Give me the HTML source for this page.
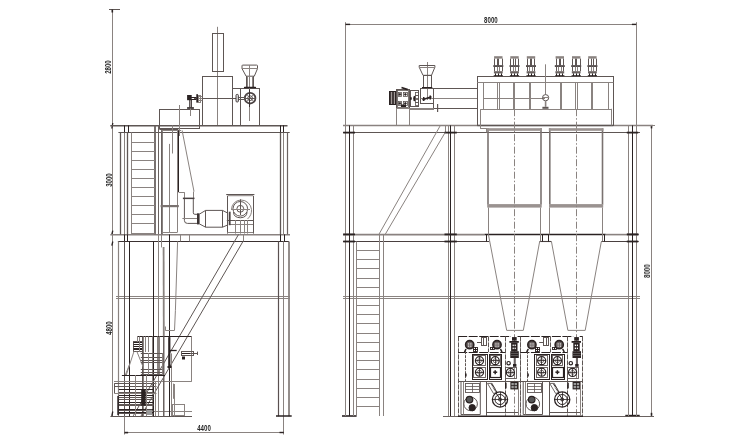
<!DOCTYPE html>
<html><head><meta charset="utf-8"><style>
html,body{margin:0;padding:0;background:#fff;overflow:hidden;}
svg{display:block;}
</style></head><body>
<svg width="750" height="444" viewBox="0 0 750 444">
<path d="M112.5,9.5V416" stroke="#8a8380" stroke-width="1"/>
<path d="M109,9.5H120" stroke="#5e5654" stroke-width="1"/>
<rect x="111.5" y="9.5" width="1.6" height="3" fill="#2a2222"/>
<path d="M112.8,123L111.8,128.5" stroke="#2a2222" stroke-width="1.3"/>
<path d="M112.8,230.7L111.8,234.5" stroke="#2a2222" stroke-width="1.3"/>
<path d="M112.8,241.5L111.8,245.6" stroke="#2a2222" stroke-width="1.3"/>
<path d="M112.8,411.5L111.8,416" stroke="#2a2222" stroke-width="1.3"/>
<path d="M110.3,125.7H287.5" stroke="#5e5654" stroke-width="1.5"/>
<path d="M118.4,132.5H289.7" stroke="#5e5654" stroke-width="1.2"/>
<path d="M110.3,234.7H290" stroke="#8a8280" stroke-width="1.6"/>
<path d="M117.9,241.5H289" stroke="#3a3030" stroke-width="1.1"/>
<path d="M116,296.5H290" stroke="#8a8380" stroke-width="1"/>
<path d="M116,298.5H290" stroke="#8a8380" stroke-width="1"/>
<path d="M110.4,416.5H192" stroke="#5e5654" stroke-width="1.2"/>
<path d="M152,411.5H192" stroke="#8a8380" stroke-width="1"/>
<path d="M124.5,405V434.5" stroke="#8a8380" stroke-width="1"/>
<path d="M283.5,405V434.5" stroke="#8a8380" stroke-width="1"/>
<path d="M124.5,432.5H283.7" stroke="#8a8380" stroke-width="1"/>
<rect x="279.5" y="431.8" width="4.3" height="1.4" fill="#2a2222"/>
<rect x="124.5" y="431.8" width="3.6" height="1.6" fill="#2a2222"/>
<path d="M120.5,132.4V234.4" stroke="#5e5654" stroke-width="1.3"/>
<path d="M124.5,132.4V234.4" stroke="#8a8380" stroke-width="1"/>
<path d="M127.5,132.4V234.4" stroke="#5e5654" stroke-width="1.3"/>
<path d="M124.5,125.4V132.4" stroke="#2a2222" stroke-width="1"/>
<path d="M128.5,125.4V132.4" stroke="#2a2222" stroke-width="1"/>
<path d="M118.5,241.4V416.3" stroke="#8a8380" stroke-width="1.2"/>
<path d="M124.5,241.4V416.3" stroke="#5e5654" stroke-width="1"/>
<path d="M129.5,241.4V416.3" stroke="#2a2222" stroke-width="1"/>
<path d="M124.5,234.4V241.4" stroke="#2a2222" stroke-width="1"/>
<path d="M127.5,234.4V241.4" stroke="#2a2222" stroke-width="1"/>
<path d="M280.5,132.4V234.4" stroke="#5e5654" stroke-width="1.3"/>
<path d="M283.5,132.4V234.4" stroke="#8a8380" stroke-width="1"/>
<path d="M287.5,132.4V234.4" stroke="#6a6260" stroke-width="1.2"/>
<path d="M280.5,125.4V132.4" stroke="#2a2222" stroke-width="1"/>
<path d="M283.5,125.4V132.4" stroke="#2a2222" stroke-width="1"/>
<path d="M278.5,241.4V416.3" stroke="#5a5050" stroke-width="1.2"/>
<path d="M283.5,241.4V416.3" stroke="#8a8380" stroke-width="1"/>
<path d="M289,241.4V416.3" stroke="#8a8380" stroke-width="1.8"/>
<path d="M280.5,234.4V241.4" stroke="#2a2222" stroke-width="1"/>
<path d="M284.5,234.4V241.4" stroke="#2a2222" stroke-width="1"/>
<path d="M289.5,241.4V241.4" stroke="#8a8380" stroke-width="1"/>
<path d="M276,416H291.7" stroke="#2a2222" stroke-width="1.5"/>
<path d="M131.5,132.4V234.4" stroke="#8a8380" stroke-width="1"/>
<path d="M155,125.4V234.4" stroke="#6a6260" stroke-width="1.8"/>
<path d="M131.4,142.5H154.9" stroke="#8a8380" stroke-width="1"/>
<path d="M131.4,151.5H154.9" stroke="#8a8380" stroke-width="1"/>
<path d="M131.4,160.5H154.9" stroke="#8a8380" stroke-width="1"/>
<path d="M131.4,169.5H154.9" stroke="#8a8380" stroke-width="1"/>
<path d="M131.4,178.5H154.9" stroke="#8a8380" stroke-width="1"/>
<path d="M131.4,187.5H154.9" stroke="#8a8380" stroke-width="1"/>
<path d="M131.4,196.5H154.9" stroke="#8a8380" stroke-width="1"/>
<path d="M131.4,205.5H154.9" stroke="#8a8380" stroke-width="1"/>
<path d="M131.4,214.5H154.9" stroke="#8a8380" stroke-width="1"/>
<path d="M131.4,223.5H154.9" stroke="#8a8380" stroke-width="1"/>
<path d="M131.4,233.5H154.9" stroke="#8a8380" stroke-width="1"/>
<path d="M158.5,125.4V234.4" stroke="#6a6260" stroke-width="1"/>
<path d="M158.5,234.4V416.3" stroke="#8a8380" stroke-width="1"/>
<path d="M161.9,129.7V234.4" stroke="#6a6260" stroke-width="1.8"/>
<path d="M153.5,241.4V416.3" stroke="#2a2222" stroke-width="1"/>
<path d="M169.5,234.4V416.3" stroke="#2a2222" stroke-width="1"/>
<path d="M161.5,234.4V247.4" stroke="#8a8380" stroke-width="1"/>
<path d="M217.5,26.8V125.4" stroke="#8a8380" stroke-width="1"/>
<rect x="212.5" y="33.5" width="11.0" height="38.0" stroke="#5e5654" stroke-width="1" fill="none"/>
<rect x="202.5" y="76.5" width="30.0" height="49.0" stroke="#5e5654" stroke-width="1" fill="none"/>
<rect x="232.5" y="88.5" width="8.0" height="37.0" stroke="#5e5654" stroke-width="1" fill="none"/>
<rect x="240.5" y="88.5" width="19.0" height="37.0" stroke="#5e5654" stroke-width="1" fill="none"/>
<path d="M242,65.6 Q242,65.1 243,65.1 L256.6,65.1 Q257.5,65.1 257.5,65.6 L257.5,68.6 L254.3,76.2 L246.1,76.2 L242,68.6 Z" stroke="#5e5654" stroke-width="1" fill="none"/>
<path d="M242,68.5H257.5" stroke="#8a8380" stroke-width="1"/>
<path d="M246.5,76V87.5" stroke="#5e5654" stroke-width="1"/>
<path d="M247.5,76V87.5" stroke="#8a8380" stroke-width="1"/>
<path d="M252.5,76V87.5" stroke="#8a8380" stroke-width="1"/>
<path d="M253.5,76V87.5" stroke="#5e5654" stroke-width="1"/>
<path d="M249.5,65V121" stroke="#8a8380" stroke-width="1"/>
<path d="M244.6,87.4 L255.4,87.4" stroke="#2a2222" stroke-width="1.5" fill="none" stroke-linecap="round"/>
<circle cx="250.1" cy="98.2" r="5.3" stroke="#4a4242" stroke-width="1.8" fill="none"/>
<circle cx="250.1" cy="98.2" r="2.4" stroke="#5e5654" stroke-width="1" fill="none"/>
<path d="M249.5,89.2V107" stroke="#3a3232" stroke-width="1"/>
<path d="M246.6,94.4L253.8,101.6" stroke="#5e5654" stroke-width="0.8"/>
<path d="M246.6,101.6L253.8,94.4" stroke="#5e5654" stroke-width="0.8"/>
<path d="M244.6,98.5H255.8" stroke="#5e5654" stroke-width="1"/>
<path d="M194,98.5H236" stroke="#5e5654" stroke-width="1"/>
<path d="M238.4,97.5H245" stroke="#5e5654" stroke-width="1"/>
<path d="M238.4,99.5H245" stroke="#5e5654" stroke-width="1"/>
<rect x="198.5" y="95.5" width="2.0" height="7.0" stroke="#8a8380" stroke-width="1" fill="none"/>
<path d="M198,96.5H202.3" stroke="#8a8380" stroke-width="1"/>
<path d="M198,98.5H202.3" stroke="#8a8380" stroke-width="1"/>
<path d="M198,100.5H202.3" stroke="#8a8380" stroke-width="1"/>
<rect x="236" y="94.4" width="2.4" height="7.6" rx="1" stroke="#3a3232" stroke-width="0.9" fill="#ddd"/>
<rect x="189.2" y="100" width="0.9" height="7.5" fill="#3a3232"/>
<rect x="191.0" y="100" width="0.9" height="7.5" fill="#3a3232"/>
<rect x="190.1" y="100" width="0.9" height="7.5" fill="#9a9290"/>
<rect x="187.1" y="95" width="4.6" height="5.2" fill="#2a2222"/>
<path d="M191,97.5H196.5" stroke="#2a2222" stroke-width="1"/>
<path d="M191,99.5H196.5" stroke="#2a2222" stroke-width="1"/>
<rect x="196.3" y="94.2" width="1.7" height="8.4" fill="#2a2222"/>
<rect x="187.1" y="107.2" width="6.8" height="1.6" fill="#2a2222"/>
<rect x="159.5" y="109.5" width="40.0" height="19.0" stroke="#5e5654" stroke-width="1" fill="none"/>
<path d="M179.5,105V136" stroke="#8a8380" stroke-width="1"/>
<path d="M190.5,108.5V116" stroke="#8a8380" stroke-width="1"/>
<path d="M159.4,129.5H178.3" stroke="#5e5654" stroke-width="1"/>
<path d="M161.5,130.5H181" stroke="#8a8380" stroke-width="1"/>
<path d="M177.5,130.4V232.6" stroke="#8a8380" stroke-width="1"/>
<path d="M169.5,143.9V232.6" stroke="#8a8380" stroke-width="1"/>
<path d="M172.5,125.4V153.5" stroke="#8a8380" stroke-width="1"/>
<rect x="160.6" y="205" width="18.2" height="2.2" fill="#7a7270"/>
<path d="M161.7,232.5H177" stroke="#8a8380" stroke-width="1"/>
<path d="M182.1,130.4L194,191.5" stroke="#8a8380" stroke-width="1"/>
<path d="M193.5,191.5V198.3" stroke="#8a8380" stroke-width="1"/>
<path d="M178.5,130.4V192.2" stroke="#2a2222" stroke-width="1"/>
<path d="M178.8,192.5H184.4" stroke="#8a8380" stroke-width="1"/>
<path d="M184.5,192.2V198.3" stroke="#8a8380" stroke-width="1"/>
<rect x="182.9" y="197.6" width="11.6" height="1.5" fill="#4a4242"/>
<path d="M184.4,199 L184.4,220.4 Q184.4,223.4 187.4,223.4 L197,223.4" stroke="#5e5654" stroke-width="1" fill="none"/>
<path d="M193.3,199 L193.3,212.8 Q193.3,214.3 194.8,214.3 L197,214.3" stroke="#5e5654" stroke-width="1" fill="none"/>
<path d="M182.4,218.5H197" stroke="#8a8380" stroke-width="1"/>
<rect x="197" y="213.3" width="2.6" height="11.1" fill="#3a3232"/>
<path d="M199.6,214 L205.6,210.4 L222.5,210.4 L227.6,213 L227.6,225 L222.5,227.2 L205.6,227.2 L199.6,224" stroke="#5e5654" stroke-width="1" fill="none"/>
<path d="M205.5,210.4V227.2" stroke="#5e5654" stroke-width="1"/>
<path d="M222.5,210.4V227.2" stroke="#5e5654" stroke-width="1"/>
<rect x="226.2" y="194" width="28.2" height="1.1" fill="#5e5654"/>
<rect x="227.5" y="195.2" width="25.8" height="1" fill="#8a8380"/>
<path d="M227.5,196V233.6" stroke="#5e5654" stroke-width="1"/>
<path d="M253.5,196V233.6" stroke="#5e5654" stroke-width="1"/>
<path d="M231.5,209.5 A9.5,9.5 0 0 1 241,200 A10.5,10.5 0 0 1 251.5,209.5 A11.5,11.5 0 0 1 247.5,219" stroke="#8a8380" stroke-width="1" fill="none"/>
<circle cx="240.3" cy="208.8" r="7.3" stroke="#5e5654" stroke-width="1" fill="none"/>
<circle cx="240.3" cy="208.8" r="3.4" stroke="#5e5654" stroke-width="1" fill="none"/>
<path d="M240.5,199.3V215" stroke="#5e5654" stroke-width="1"/>
<path d="M231,209.5H250" stroke="#8a8380" stroke-width="1"/>
<path d="M233.5,212 Q233.5,217.5 240.3,217.8 Q247,217.5 247,212" stroke="#5e5654" stroke-width="1" fill="none"/>
<path d="M226.8,220.5H253.8" stroke="#5e5654" stroke-width="1"/>
<path d="M230,224.5H253" stroke="#8a8380" stroke-width="1"/>
<path d="M235.5,220V233.6" stroke="#8a8380" stroke-width="1"/>
<path d="M240.5,220V233.6" stroke="#8a8380" stroke-width="1"/>
<path d="M244.5,220V233.6" stroke="#8a8380" stroke-width="1"/>
<path d="M247.5,220V233.6" stroke="#8a8380" stroke-width="1"/>
<rect x="228.8" y="211.7" width="1.8" height="13.5" fill="#4a4242"/>
<path d="M227.3,232.5H253.2" stroke="#8a8380" stroke-width="1"/>
<path d="M163.6,247L163.8,336.4" stroke="#8a8380" stroke-width="1.8"/>
<path d="M177.6,241.4L175.4,310.7" stroke="#8a8380" stroke-width="1"/>
<path d="M175.4,310.7L174.5,330.4" stroke="#8a8380" stroke-width="1"/>
<path d="M165.3,330.5H174.5" stroke="#8a8380" stroke-width="1"/>
<path d="M165.5,326.5V330.4" stroke="#8a8380" stroke-width="1"/>
<path d="M243.5,234.4V241.4" stroke="#8a8380" stroke-width="1"/>
<path d="M180.5,234.7V241.3" stroke="#8a8380" stroke-width="1"/>
<path d="M189.5,234.7V241.3" stroke="#8a8380" stroke-width="1"/>
<path d="M238.5,234.5L133.3,415.8" stroke="#5e5654" stroke-width="1"/>
<path d="M243,241.4L141,416" stroke="#5e5654" stroke-width="1"/>
<path d="M137.4,336.5H191.7" stroke="#2a2222" stroke-width="1"/>
<path d="M191.5,336.4V381.6" stroke="#8a8380" stroke-width="1"/>
<path d="M114,381.5H191.7" stroke="#8a8380" stroke-width="1"/>
<path d="M171.5,353.4V416.3" stroke="#8a8380" stroke-width="1"/>
<path d="M174.5,384V416.3" stroke="#8a8380" stroke-width="1"/>
<rect x="172.5" y="404.5" width="12.0" height="11.0" stroke="#8a8380" stroke-width="1" fill="none"/>
<rect x="168.2" y="337.2" width="2.2" height="30" fill="#2a2222"/>
<path d="M169,350.5H176.7" stroke="#2a2222" stroke-width="1.3"/>
<rect x="167.5" y="366" width="4" height="2" fill="#2a2222"/>
<rect x="181.5" y="351.5" width="12.0" height="4.0" stroke="#5e5654" stroke-width="1" fill="none"/>
<path d="M182,353.5H193" stroke="#2a2222" stroke-width="1"/>
<rect x="182" y="356.5" width="3" height="3" fill="#2a2222"/>
<path d="M190,353.5H198" stroke="#5e5654" stroke-width="1"/>
<path d="M197.5,351.6V355" stroke="#5e5654" stroke-width="1"/>
<rect x="163" y="336.4" width="1.5" height="80" fill="#6a6260"/>
<rect x="133.5" y="341.5" width="10.0" height="10.0" stroke="#5e5654" stroke-width="1" fill="none"/>
<path d="M133.5,342.5H143" stroke="#2a2222" stroke-width="1"/>
<path d="M133.5,344.5H143" stroke="#2a2222" stroke-width="1"/>
<path d="M133.5,346.5H143" stroke="#2a2222" stroke-width="1"/>
<path d="M133.5,348.5H143" stroke="#2a2222" stroke-width="1"/>
<path d="M133.5,349.5H143" stroke="#2a2222" stroke-width="1"/>
<path d="M137.5,336.4V342" stroke="#8a8380" stroke-width="1"/>
<path d="M139.5,336.4V352" stroke="#8a8380" stroke-width="1"/>
<path d="M143.5,336.4V416.3" stroke="#8a8380" stroke-width="1"/>
<path d="M145.5,336.4V352" stroke="#8a8380" stroke-width="1"/>
<path d="M148.5,336.4V352" stroke="#8a8380" stroke-width="1"/>
<path d="M142.5,336.4V416.3" stroke="#5e5654" stroke-width="1"/>
<path d="M152.5,336.4V416.3" stroke="#8a8380" stroke-width="1"/>
<path d="M157.5,336.4V375" stroke="#8a8380" stroke-width="1"/>
<path d="M159.5,336.4V375" stroke="#8a8380" stroke-width="1"/>
<path d="M162.5,353V375" stroke="#8a8380" stroke-width="1"/>
<path d="M134,351.3L126.1,375.5" stroke="#8a8380" stroke-width="1"/>
<path d="M136.8,351.3L143.6,368.2" stroke="#8a8380" stroke-width="1"/>
<path d="M140.8,353.5H162.2" stroke="#5e5654" stroke-width="1"/>
<path d="M140.8,357.5H162.2" stroke="#5e5654" stroke-width="1"/>
<path d="M140.8,360.5H162.2" stroke="#5e5654" stroke-width="1"/>
<path d="M140.8,362.5H162.2" stroke="#5e5654" stroke-width="1"/>
<path d="M140.8,369.5H162.2" stroke="#5e5654" stroke-width="1"/>
<path d="M140.8,372.5H162.2" stroke="#5e5654" stroke-width="1"/>
<path d="M140.8,374.5H162.2" stroke="#5e5654" stroke-width="1"/>
<path d="M148.5,353V375" stroke="#8a8380" stroke-width="1"/>
<path d="M121.9,375.5H165" stroke="#2a2222" stroke-width="1.2"/>
<path d="M125.3,375L129.3,365" stroke="#8a8380" stroke-width="1"/>
<path d="M114.2,383.5H156.5" stroke="#5e5654" stroke-width="1"/>
<path d="M114.2,386.5H156.5" stroke="#5e5654" stroke-width="1"/>
<path d="M114.5,383.6V393" stroke="#5e5654" stroke-width="1"/>
<path d="M114.2,393.5H156.5" stroke="#8a8380" stroke-width="1"/>
<path d="M118.8,389.5H153.5" stroke="#2a2222" stroke-width="1"/>
<path d="M118.8,392.5H153.5" stroke="#5e5654" stroke-width="1"/>
<path d="M118.8,395.5H153.5" stroke="#2a2222" stroke-width="1"/>
<path d="M118.8,397.5H153.5" stroke="#5e5654" stroke-width="1"/>
<path d="M118.8,399.5H153.5" stroke="#5e5654" stroke-width="1"/>
<path d="M118.8,402.5H153.5" stroke="#2a2222" stroke-width="1"/>
<path d="M118.8,404.5H153.5" stroke="#5e5654" stroke-width="1"/>
<path d="M118.8,405.5H153.5" stroke="#5e5654" stroke-width="1"/>
<path d="M118.8,409.5H153.5" stroke="#2a2222" stroke-width="1"/>
<path d="M118.8,410.5H153.5" stroke="#5e5654" stroke-width="1"/>
<path d="M118.8,412.5H153.5" stroke="#2a2222" stroke-width="1"/>
<path d="M118.8,413.5H153.5" stroke="#5e5654" stroke-width="1"/>
<rect x="117.3" y="396" width="1.6" height="19" fill="#2a2222"/>
<path d="M135.5,375V416.3" stroke="#8a8380" stroke-width="1"/>
<path d="M146.5,375V416.3" stroke="#8a8380" stroke-width="1"/>
<rect x="141.2" y="389.5" width="4.5" height="16.2" fill="#2a2222"/>
<rect x="147" y="409.7" width="5" height="5.3" fill="#999"/>
<path d="M155.5,381V416.3" stroke="#8a8380" stroke-width="1"/>
<path d="M173.5,383.6V398.8" stroke="#8a8380" stroke-width="1"/>
<path d="M345.1,24.5H636.2" stroke="#8a8380" stroke-width="1"/>
<path d="M345.5,22.2V126" stroke="#8a8380" stroke-width="1"/>
<path d="M636.5,22.2V126" stroke="#8a8380" stroke-width="1"/>
<rect x="345.5" y="23.7" width="4.6" height="1.4" fill="#2a2222"/>
<rect x="631.9" y="23.7" width="4.3" height="1.4" fill="#2a2222"/>
<path d="M651.5,125.4V416.5" stroke="#8a8380" stroke-width="1"/>
<path d="M636,125.5H655" stroke="#8a8380" stroke-width="1"/>
<rect x="650.7" y="125.4" width="1.6" height="3" fill="#2a2222"/>
<rect x="650.7" y="412.8" width="1.6" height="3" fill="#2a2222"/>
<path d="M343,125.6H477.3" stroke="#8a8280" stroke-width="1.5"/>
<path d="M477.3,125.5H613.3" stroke="#2a2222" stroke-width="1.4"/>
<path d="M613.3,125.5H653" stroke="#8a8280" stroke-width="1.3"/>
<path d="M343,132.5H640" stroke="#5e5654" stroke-width="1"/>
<path d="M343,234.6H484.6" stroke="#8a8280" stroke-width="1.6"/>
<path d="M484.6,234.5H605.7" stroke="#2a2222" stroke-width="1.6"/>
<path d="M605.7,234.6H627" stroke="#8a8280" stroke-width="1.6"/>
<path d="M627,234.5H638.7" stroke="#2a2222" stroke-width="1.6"/>
<path d="M343,241.5H489.2" stroke="#4a4040" stroke-width="1.1"/>
<path d="M539.5,241.5H551.4" stroke="#4a4040" stroke-width="1.1"/>
<path d="M601.3,241.5H638.7" stroke="#4a4040" stroke-width="1.1"/>
<path d="M486.5,234.5V241.6" stroke="#2a2222" stroke-width="1"/>
<path d="M542.5,234.5V241.6" stroke="#2a2222" stroke-width="1"/>
<path d="M548.5,234.5V241.6" stroke="#2a2222" stroke-width="1"/>
<path d="M604.5,234.5V241.6" stroke="#2a2222" stroke-width="1"/>
<path d="M343,296.5H640" stroke="#8a8380" stroke-width="1"/>
<path d="M343,298.5H640" stroke="#8a8380" stroke-width="1"/>
<path d="M443,416.5H654" stroke="#6a6260" stroke-width="1.2"/>
<path d="M458,416.3H583" stroke="#2a2222" stroke-width="1.5"/>
<path d="M342,416H356.6" stroke="#2a2222" stroke-width="1.6"/>
<path d="M625.3,415.5H639.7" stroke="#2a2222" stroke-width="1.4"/>
<path d="M345.5,125.4V416" stroke="#8a8380" stroke-width="1"/>
<path d="M349.5,125.4V416" stroke="#2a2222" stroke-width="1"/>
<path d="M353.5,125.4V416" stroke="#8a8380" stroke-width="1"/>
<path d="M448.5,125.4V416" stroke="#8a8380" stroke-width="1"/>
<path d="M450.5,125.4V416" stroke="#2a2222" stroke-width="1"/>
<path d="M454.5,125.4V416" stroke="#8a8380" stroke-width="1"/>
<path d="M445.5,125.4V132.6" stroke="#8a8380" stroke-width="1"/>
<path d="M628.5,125.4V416" stroke="#8a8380" stroke-width="1"/>
<path d="M632.5,125.4V416" stroke="#2a2222" stroke-width="1"/>
<path d="M636.5,125.4V416" stroke="#8a8380" stroke-width="1"/>
<path d="M343.2,132.6H355" stroke="#2a2222" stroke-width="1.8"/>
<path d="M444.5,132.6H456.8" stroke="#2a2222" stroke-width="1.8"/>
<path d="M626.8,132.6H638.2" stroke="#2a2222" stroke-width="1.8"/>
<path d="M343.2,234.4H355" stroke="#2a2222" stroke-width="1.8"/>
<path d="M444.5,234.4H456.8" stroke="#2a2222" stroke-width="1.8"/>
<path d="M626.8,234.4H638.2" stroke="#2a2222" stroke-width="1.8"/>
<path d="M343.2,241.5H355" stroke="#2a2222" stroke-width="1.8"/>
<path d="M444.5,241.5H456.8" stroke="#2a2222" stroke-width="1.8"/>
<path d="M626.8,241.5H638.2" stroke="#2a2222" stroke-width="1.8"/>
<path d="M440.4,125.4L378.9,234.4" stroke="#8a8380" stroke-width="1"/>
<path d="M445.1,132.6L385.2,234.4" stroke="#8a8380" stroke-width="1"/>
<path d="M356.5,241.5V416" stroke="#8a8380" stroke-width="1"/>
<path d="M379.5,234.4V416" stroke="#8a8380" stroke-width="1"/>
<path d="M383.5,234.4V416" stroke="#8a8380" stroke-width="1"/>
<path d="M356.6,250.5H379.7" stroke="#8a8380" stroke-width="1"/>
<path d="M356.6,259.5H379.7" stroke="#8a8380" stroke-width="1"/>
<path d="M356.6,268.5H379.7" stroke="#8a8380" stroke-width="1"/>
<path d="M356.6,278.5H379.7" stroke="#8a8380" stroke-width="1"/>
<path d="M356.6,287.5H379.7" stroke="#8a8380" stroke-width="1"/>
<path d="M356.6,296.5H379.7" stroke="#8a8380" stroke-width="1"/>
<path d="M356.6,305.5H379.7" stroke="#8a8380" stroke-width="1"/>
<path d="M356.6,314.5H379.7" stroke="#8a8380" stroke-width="1"/>
<path d="M356.6,323.5H379.7" stroke="#8a8380" stroke-width="1"/>
<path d="M356.6,333.5H379.7" stroke="#8a8380" stroke-width="1"/>
<path d="M356.6,342.5H379.7" stroke="#8a8380" stroke-width="1"/>
<path d="M356.6,351.5H379.7" stroke="#8a8380" stroke-width="1"/>
<path d="M356.6,360.5H379.7" stroke="#8a8380" stroke-width="1"/>
<path d="M356.6,369.5H379.7" stroke="#8a8380" stroke-width="1"/>
<path d="M356.6,379.5H379.7" stroke="#8a8380" stroke-width="1"/>
<path d="M356.6,388.5H379.7" stroke="#8a8380" stroke-width="1"/>
<path d="M356.6,397.5H379.7" stroke="#8a8380" stroke-width="1"/>
<path d="M356.6,406.5H379.7" stroke="#8a8380" stroke-width="1"/>
<path d="M427.5,62V100" stroke="#8a8380" stroke-width="1"/>
<path d="M419.2,65.5 L434.9,65.5 L434.9,67.2 L431.5,75.3 L423,75.3 L419.2,67.2 Z" stroke="#5e5654" stroke-width="1" fill="none"/>
<path d="M419.2,67.5H434.9" stroke="#8a8380" stroke-width="1"/>
<rect x="423.5" y="75.5" width="8.0" height="12.0" stroke="#5e5654" stroke-width="1" fill="none"/>
<rect x="422" y="87" width="10.3" height="1.8" fill="#2a2222"/>
<rect x="420.5" y="88.5" width="13.0" height="15.0" stroke="#5e5654" stroke-width="1" fill="none"/>
<path d="M433.8,88.5H477.3" stroke="#5e5654" stroke-width="1"/>
<path d="M433.8,108.5H477.3" stroke="#5e5654" stroke-width="1.2"/>
<path d="M420.5,98.5H477.3" stroke="#8a8380" stroke-width="1"/>
<path d="M433.5,88.2V109.6" stroke="#5e5654" stroke-width="1"/>
<path d="M396,108.5H433.8" stroke="#8a8380" stroke-width="1"/>
<path d="M409.2,109.5H433.8" stroke="#8a8380" stroke-width="1"/>
<path d="M422.4,99.8L431.5,96.7" stroke="#2a2222" stroke-width="1.7"/>
<rect x="423" y="97" width="1.5" height="4" fill="#2a2222"/>
<rect x="429.5" y="95.5" width="1.5" height="4" fill="#2a2222"/>
<rect x="396.5" y="89.5" width="13.0" height="19.0" stroke="#5e5654" stroke-width="1" fill="none"/>
<rect x="397.5" y="90.5" width="11.0" height="17.0" stroke="#5e5654" stroke-width="0.8" fill="none"/>
<rect x="398.5" y="92.5" width="3.0" height="4.0" stroke="#5e5654" stroke-width="0.8" fill="none"/>
<circle cx="399.9" cy="94.4" r="0.9" stroke="#2a2222" stroke-width="0.8" fill="#2a2222"/>
<rect x="403.5" y="92.5" width="4.0" height="4.0" stroke="#5e5654" stroke-width="0.8" fill="none"/>
<circle cx="405.4" cy="94.4" r="0.9" stroke="#2a2222" stroke-width="0.8" fill="#2a2222"/>
<rect x="398.5" y="101.5" width="3.0" height="4.0" stroke="#5e5654" stroke-width="0.8" fill="none"/>
<circle cx="399.9" cy="103.4" r="0.9" stroke="#2a2222" stroke-width="0.8" fill="#2a2222"/>
<rect x="403.5" y="101.5" width="4.0" height="4.0" stroke="#5e5654" stroke-width="0.8" fill="none"/>
<circle cx="405.4" cy="103.4" r="0.9" stroke="#2a2222" stroke-width="0.8" fill="#2a2222"/>
<path d="M401.5,87.5L407.7,89.6" stroke="#2a2222" stroke-width="1.8"/>
<rect x="401" y="104.5" width="5" height="2.5" fill="#2a2222"/>
<rect x="389.5" y="91.5" width="6.0" height="13.0" stroke="#2a2222" stroke-width="1" fill="#a09896"/>
<path d="M390.5,91.5V104.5" stroke="#2a2222" stroke-width="0.8"/>
<path d="M392.5,91.5V104.5" stroke="#2a2222" stroke-width="0.8"/>
<path d="M393.5,91.5V104.5" stroke="#2a2222" stroke-width="0.8"/>
<rect x="410.5" y="90.5" width="8.0" height="16.0" stroke="#5e5654" stroke-width="1" fill="none"/>
<ellipse cx="410.9" cy="98.5" rx="0.9" ry="1.8" fill="#2a2222"/>
<ellipse cx="414.5" cy="98.5" rx="1.3" ry="2.8" fill="#2a2222"/>
<rect x="415.5" y="92.5" width="3.0" height="3.0" stroke="#5e5654" stroke-width="0.8" fill="none"/>
<rect x="415.5" y="95.5" width="3.0" height="3.0" stroke="#5e5654" stroke-width="0.8" fill="none"/>
<rect x="415.5" y="99.5" width="3.0" height="3.0" stroke="#5e5654" stroke-width="0.8" fill="none"/>
<rect x="415.5" y="102.5" width="3.0" height="3.0" stroke="#5e5654" stroke-width="0.8" fill="none"/>
<rect x="396.5" y="108.5" width="13.0" height="17.0" stroke="#8a8380" stroke-width="1" fill="none"/>
<rect x="437" y="104" width="1.2" height="8" fill="#5e5654"/>
<rect x="477.5" y="76.5" width="136.0" height="49.0" stroke="#5e5654" stroke-width="1" fill="none"/>
<path d="M477.3,82.5H613.4" stroke="#8a8380" stroke-width="1"/>
<path d="M480.5,109.2V128.1" stroke="#8a8380" stroke-width="1"/>
<path d="M483.5,82.2V109.2" stroke="#8a8380" stroke-width="1"/>
<path d="M608.5,82.2V109.2" stroke="#8a8380" stroke-width="1"/>
<path d="M497.5,82.2V109.2" stroke="#8a8380" stroke-width="1"/>
<path d="M499.5,82.2V109.2" stroke="#8a8380" stroke-width="1"/>
<path d="M513.5,82.2V109.2" stroke="#8a8380" stroke-width="1"/>
<path d="M514.5,82.2V109.2" stroke="#8a8380" stroke-width="1"/>
<path d="M529.5,82.2V109.2" stroke="#8a8380" stroke-width="1"/>
<path d="M530.5,82.2V109.2" stroke="#8a8380" stroke-width="1"/>
<path d="M560.5,82.2V109.2" stroke="#8a8380" stroke-width="1"/>
<path d="M561.5,82.2V109.2" stroke="#8a8380" stroke-width="1"/>
<path d="M575.5,82.2V109.2" stroke="#8a8380" stroke-width="1"/>
<path d="M577.5,82.2V109.2" stroke="#8a8380" stroke-width="1"/>
<path d="M591.5,82.2V109.2" stroke="#8a8380" stroke-width="1"/>
<path d="M592.5,82.2V109.2" stroke="#8a8380" stroke-width="1"/>
<path d="M480.5,109.5H611" stroke="#8a8380" stroke-width="1"/>
<path d="M483.2,98.5H545" stroke="#8a8380" stroke-width="1"/>
<path d="M611.5,108.8V125.4" stroke="#8a8380" stroke-width="1"/>
<path d="M545.5,64.3V94.6" stroke="#8a8380" stroke-width="1"/>
<circle cx="545.6" cy="97.7" r="3.1" stroke="#5e5654" stroke-width="1" fill="none"/>
<path d="M542.5,97.5H548.7" stroke="#8a8380" stroke-width="1"/>
<rect x="544.8" y="100.8" width="1.6" height="6" fill="#8a8380"/>
<rect x="542.4" y="106.8" width="6.1" height="2" fill="#5e5654"/>
<path d="M480.1,128.5H486.3" stroke="#8a8380" stroke-width="1"/>
<path d="M486.5,128.1V132.4" stroke="#8a8380" stroke-width="1"/>
<rect x="494.1" y="56.2" width="8.4" height="2.4" fill="#8a8380"/>
<path d="M494.5,58.6V65.3" stroke="#5e5654" stroke-width="1"/>
<path d="M497.5,58.6V65.3" stroke="#5e5654" stroke-width="1"/>
<path d="M498.5,58.6V65.3" stroke="#5e5654" stroke-width="1"/>
<path d="M502.5,58.6V65.3" stroke="#5e5654" stroke-width="1"/>
<rect x="493.3" y="65.3" width="10" height="1.5" fill="#2a2222"/>
<path d="M494.5,66.7V71.2" stroke="#5e5654" stroke-width="1"/>
<path d="M497.5,66.7V71.2" stroke="#8a8380" stroke-width="1"/>
<path d="M499.5,66.7V71.2" stroke="#8a8380" stroke-width="1"/>
<path d="M502.5,66.7V71.2" stroke="#5e5654" stroke-width="1"/>
<rect x="493.90000000000003" y="71.2" width="8.8" height="2.2" fill="#6a6260"/>
<path d="M495.5,73.4V76" stroke="#2a2222" stroke-width="1"/>
<path d="M498.5,73.4V76" stroke="#2a2222" stroke-width="1"/>
<path d="M501.5,73.4V76" stroke="#2a2222" stroke-width="1"/>
<rect x="493.7" y="75.2" width="9.2" height="1" fill="#2a2222"/>
<rect x="510.3" y="56.2" width="8.4" height="2.4" fill="#8a8380"/>
<path d="M510.5,58.6V65.3" stroke="#5e5654" stroke-width="1"/>
<path d="M513.5,58.6V65.3" stroke="#5e5654" stroke-width="1"/>
<path d="M515.5,58.6V65.3" stroke="#5e5654" stroke-width="1"/>
<path d="M518.5,58.6V65.3" stroke="#5e5654" stroke-width="1"/>
<rect x="509.5" y="65.3" width="10" height="1.5" fill="#2a2222"/>
<path d="M510.5,66.7V71.2" stroke="#5e5654" stroke-width="1"/>
<path d="M513.5,66.7V71.2" stroke="#8a8380" stroke-width="1"/>
<path d="M515.5,66.7V71.2" stroke="#8a8380" stroke-width="1"/>
<path d="M518.5,66.7V71.2" stroke="#5e5654" stroke-width="1"/>
<rect x="510.1" y="71.2" width="8.8" height="2.2" fill="#6a6260"/>
<path d="M511.5,73.4V76" stroke="#2a2222" stroke-width="1"/>
<path d="M514.5,73.4V76" stroke="#2a2222" stroke-width="1"/>
<path d="M517.5,73.4V76" stroke="#2a2222" stroke-width="1"/>
<rect x="509.9" y="75.2" width="9.2" height="1" fill="#2a2222"/>
<rect x="526.8" y="56.2" width="8.4" height="2.4" fill="#8a8380"/>
<path d="M527.5,58.6V65.3" stroke="#5e5654" stroke-width="1"/>
<path d="M530.5,58.6V65.3" stroke="#5e5654" stroke-width="1"/>
<path d="M531.5,58.6V65.3" stroke="#5e5654" stroke-width="1"/>
<path d="M534.5,58.6V65.3" stroke="#5e5654" stroke-width="1"/>
<rect x="526" y="65.3" width="10" height="1.5" fill="#2a2222"/>
<path d="M527.5,66.7V71.2" stroke="#5e5654" stroke-width="1"/>
<path d="M529.5,66.7V71.2" stroke="#8a8380" stroke-width="1"/>
<path d="M532.5,66.7V71.2" stroke="#8a8380" stroke-width="1"/>
<path d="M534.5,66.7V71.2" stroke="#5e5654" stroke-width="1"/>
<rect x="526.6" y="71.2" width="8.8" height="2.2" fill="#6a6260"/>
<path d="M528.5,73.4V76" stroke="#2a2222" stroke-width="1"/>
<path d="M531.5,73.4V76" stroke="#2a2222" stroke-width="1"/>
<path d="M534.5,73.4V76" stroke="#2a2222" stroke-width="1"/>
<rect x="526.4" y="75.2" width="9.2" height="1" fill="#2a2222"/>
<rect x="555.5999999999999" y="56.2" width="8.4" height="2.4" fill="#8a8380"/>
<path d="M556.5,58.6V65.3" stroke="#5e5654" stroke-width="1"/>
<path d="M559.5,58.6V65.3" stroke="#5e5654" stroke-width="1"/>
<path d="M560.5,58.6V65.3" stroke="#5e5654" stroke-width="1"/>
<path d="M563.5,58.6V65.3" stroke="#5e5654" stroke-width="1"/>
<rect x="554.8" y="65.3" width="10" height="1.5" fill="#2a2222"/>
<path d="M556.5,66.7V71.2" stroke="#5e5654" stroke-width="1"/>
<path d="M558.5,66.7V71.2" stroke="#8a8380" stroke-width="1"/>
<path d="M561.5,66.7V71.2" stroke="#8a8380" stroke-width="1"/>
<path d="M563.5,66.7V71.2" stroke="#5e5654" stroke-width="1"/>
<rect x="555.4" y="71.2" width="8.8" height="2.2" fill="#6a6260"/>
<path d="M556.5,73.4V76" stroke="#2a2222" stroke-width="1"/>
<path d="M559.5,73.4V76" stroke="#2a2222" stroke-width="1"/>
<path d="M562.5,73.4V76" stroke="#2a2222" stroke-width="1"/>
<rect x="555.1999999999999" y="75.2" width="9.2" height="1" fill="#2a2222"/>
<rect x="572.0" y="56.2" width="8.4" height="2.4" fill="#8a8380"/>
<path d="M572.5,58.6V65.3" stroke="#5e5654" stroke-width="1"/>
<path d="M575.5,58.6V65.3" stroke="#5e5654" stroke-width="1"/>
<path d="M576.5,58.6V65.3" stroke="#5e5654" stroke-width="1"/>
<path d="M580.5,58.6V65.3" stroke="#5e5654" stroke-width="1"/>
<rect x="571.2" y="65.3" width="10" height="1.5" fill="#2a2222"/>
<path d="M572.5,66.7V71.2" stroke="#5e5654" stroke-width="1"/>
<path d="M575.5,66.7V71.2" stroke="#8a8380" stroke-width="1"/>
<path d="M577.5,66.7V71.2" stroke="#8a8380" stroke-width="1"/>
<path d="M580.5,66.7V71.2" stroke="#5e5654" stroke-width="1"/>
<rect x="571.8000000000001" y="71.2" width="8.8" height="2.2" fill="#6a6260"/>
<path d="M573.5,73.4V76" stroke="#2a2222" stroke-width="1"/>
<path d="M576.5,73.4V76" stroke="#2a2222" stroke-width="1"/>
<path d="M579.5,73.4V76" stroke="#2a2222" stroke-width="1"/>
<rect x="571.6" y="75.2" width="9.2" height="1" fill="#2a2222"/>
<rect x="588.1999999999999" y="56.2" width="8.4" height="2.4" fill="#8a8380"/>
<path d="M588.5,58.6V65.3" stroke="#5e5654" stroke-width="1"/>
<path d="M591.5,58.6V65.3" stroke="#5e5654" stroke-width="1"/>
<path d="M593.5,58.6V65.3" stroke="#5e5654" stroke-width="1"/>
<path d="M596.5,58.6V65.3" stroke="#5e5654" stroke-width="1"/>
<rect x="587.4" y="65.3" width="10" height="1.5" fill="#2a2222"/>
<path d="M588.5,66.7V71.2" stroke="#5e5654" stroke-width="1"/>
<path d="M591.5,66.7V71.2" stroke="#8a8380" stroke-width="1"/>
<path d="M593.5,66.7V71.2" stroke="#8a8380" stroke-width="1"/>
<path d="M596.5,66.7V71.2" stroke="#5e5654" stroke-width="1"/>
<rect x="588.0" y="71.2" width="8.8" height="2.2" fill="#6a6260"/>
<path d="M589.5,73.4V76" stroke="#2a2222" stroke-width="1"/>
<path d="M592.5,73.4V76" stroke="#2a2222" stroke-width="1"/>
<path d="M595.5,73.4V76" stroke="#2a2222" stroke-width="1"/>
<rect x="587.8" y="75.2" width="9.2" height="1" fill="#2a2222"/>
<path d="M488,128.3V204.5" stroke="#7a7270" stroke-width="1.6"/>
<path d="M541.0,128.3V204.5" stroke="#7a7270" stroke-width="1.6"/>
<rect x="487" y="128.2" width="55.0" height="2.6" fill="#9a9290"/>
<rect x="487.2" y="204.1" width="54.5" height="3.5" fill="#9a9290"/>
<path d="M488.5,207.5V234.4" stroke="#8a8380" stroke-width="1"/>
<path d="M540.5,207.5V241.3" stroke="#8a8380" stroke-width="1"/>
<path d="M514.5,109.2V416" stroke="#8a8380" stroke-width="1" stroke-dasharray="7,2,1.5,2"/>
<path d="M549.8,128.3V204.5" stroke="#7a7270" stroke-width="1.6"/>
<path d="M602.5,128.3V204.5" stroke="#7a7270" stroke-width="1.6"/>
<rect x="548.8" y="128.2" width="54.700000000000045" height="2.6" fill="#9a9290"/>
<rect x="549.0" y="204.1" width="54.200000000000045" height="3.5" fill="#9a9290"/>
<path d="M549.5,207.5V234.4" stroke="#8a8380" stroke-width="1"/>
<path d="M602.5,207.5V241.3" stroke="#8a8380" stroke-width="1"/>
<path d="M576.5,109.2V416" stroke="#8a8380" stroke-width="1" stroke-dasharray="7,2,1.5,2"/>
<path d="M488.4,234.4 L506.7,330.4 L523.3,330.4 L539.7,241.3" stroke="#8a8380" stroke-width="1" fill="none"/>
<path d="M551.4,241.3 L567.9,330.4 L585.2,330.4 L601.3,241.7" stroke="#8a8380" stroke-width="1" fill="none"/>
<path d="M458.5,336.4V416" stroke="#5e5654" stroke-width="1" stroke-dasharray="5,1"/>
<path d="M458.2,336.5H511" stroke="#2a2222" stroke-width="1" stroke-dasharray="9,1.5"/>
<path d="M517.5,336.5H520.6" stroke="#2a2222" stroke-width="1"/>
<path d="M520.5,336.4V416" stroke="#5e5654" stroke-width="1" stroke-dasharray="5,1"/>
<path d="M458.2,352.5H505.3" stroke="#2a2222" stroke-width="1" stroke-dasharray="9,1.5"/>
<path d="M505.5,336.4V416" stroke="#5e5654" stroke-width="1" stroke-dasharray="5,1"/>
<path d="M488.5,336.4V352" stroke="#5e5654" stroke-width="1" stroke-dasharray="5,1"/>
<path d="M465.5,351.2V381" stroke="#5e5654" stroke-width="1" stroke-dasharray="3,1"/>
<circle cx="469.7" cy="344.7" r="4.1" stroke="#2a2222" stroke-width="1.6" fill="#6a6262"/>
<rect x="468.09999999999997" y="343.4" width="1.1" height="1.1" fill="#fff"/>
<rect x="470.3" y="343.4" width="1.1" height="1.1" fill="#fff"/>
<rect x="468.09999999999997" y="345.6" width="1.1" height="1.1" fill="#fff"/>
<rect x="470.3" y="345.6" width="1.1" height="1.1" fill="#fff"/>
<circle cx="497" cy="344.7" r="4.1" stroke="#2a2222" stroke-width="1.6" fill="#6a6262"/>
<rect x="495.4" y="343.4" width="1.1" height="1.1" fill="#fff"/>
<rect x="497.6" y="343.4" width="1.1" height="1.1" fill="#fff"/>
<rect x="495.4" y="345.6" width="1.1" height="1.1" fill="#fff"/>
<rect x="497.6" y="345.6" width="1.1" height="1.1" fill="#fff"/>
<path d="M466,349L464.5,352" stroke="#2a2222" stroke-width="1.6"/>
<path d="M500.5,349L502,352" stroke="#2a2222" stroke-width="1.6"/>
<rect x="473.5" y="347.5" width="2.0" height="2.0" stroke="#2a2222" stroke-width="0.9" fill="none"/>
<rect x="475.5" y="347.5" width="2.0" height="2.0" stroke="#2a2222" stroke-width="0.9" fill="none"/>
<rect x="473.5" y="349.5" width="2.0" height="2.0" stroke="#2a2222" stroke-width="0.9" fill="none"/>
<rect x="475.5" y="349.5" width="2.0" height="2.0" stroke="#2a2222" stroke-width="0.9" fill="none"/>
<rect x="490.5" y="347.5" width="2.0" height="2.0" stroke="#2a2222" stroke-width="0.9" fill="none"/>
<rect x="492.5" y="347.5" width="2.0" height="2.0" stroke="#2a2222" stroke-width="0.9" fill="none"/>
<rect x="481.5" y="337.5" width="5.0" height="8.0" stroke="#5e5654" stroke-width="1" fill="none"/>
<path d="M483.5,337V345.5" stroke="#5e5654" stroke-width="1"/>
<path d="M477,342.5H481.6" stroke="#5e5654" stroke-width="1"/>
<rect x="512" y="337.1" width="4.7" height="3.6" fill="#2a2222"/>
<rect x="509.4" y="341" width="9.4" height="1.8" fill="#2a2222"/>
<rect x="511.1" y="342.7" width="6.4" height="8.5" fill="#2a2222"/>
<rect x="512.6" y="344.6" width="1.2" height="1.5" fill="#fff"/>
<rect x="512.6" y="347.6" width="1.2" height="1.5" fill="#fff"/>
<rect x="514.6" y="344.6" width="1.2" height="1.5" fill="#fff"/>
<rect x="514.6" y="347.6" width="1.2" height="1.5" fill="#fff"/>
<rect x="510.3" y="351.2" width="8.5" height="6.8" fill="#2a2222"/>
<path d="M510.5,353.5H518.5" stroke="#777" stroke-width="0.6"/>
<path d="M510.5,355.5H518.5" stroke="#777" stroke-width="0.6"/>
<rect x="513.7" y="358" width="2.1" height="6" fill="#6a6262"/>
<rect x="513" y="364" width="3.4" height="2.8" fill="#2a2222"/>
<circle cx="508.6" cy="363.2" r="1.7" stroke="#2a2222" stroke-width="1.2" fill="none"/>
<rect x="472.5" y="354.5" width="15.0" height="25.0" stroke="#2a2222" stroke-width="1" fill="none"/>
<rect x="473.5" y="355.5" width="12.0" height="10.0" stroke="#5e5654" stroke-width="0.9" fill="none"/>
<circle cx="479.5" cy="360.7" r="4" stroke="#2a2222" stroke-width="1.3" fill="none"/>
<circle cx="479.5" cy="360.7" r="2" stroke="#5e5654" stroke-width="0.8" fill="none"/>
<path d="M475.5,360.5H483.5" stroke="#2a2222" stroke-width="0.8"/>
<path d="M479.5,356.7V364.7" stroke="#2a2222" stroke-width="0.8"/>
<rect x="473.5" y="367.5" width="12.0" height="10.0" stroke="#5e5654" stroke-width="0.9" fill="none"/>
<circle cx="479.5" cy="372.2" r="4" stroke="#2a2222" stroke-width="1.3" fill="none"/>
<circle cx="479.5" cy="372.2" r="2" stroke="#5e5654" stroke-width="0.8" fill="none"/>
<path d="M475.5,372.5H483.5" stroke="#2a2222" stroke-width="0.8"/>
<path d="M479.5,368.2V376.2" stroke="#2a2222" stroke-width="0.8"/>
<rect x="489.5" y="354.5" width="12.0" height="25.0" stroke="#2a2222" stroke-width="1" fill="none"/>
<rect x="490.5" y="355.5" width="10.0" height="10.0" stroke="#5e5654" stroke-width="0.9" fill="none"/>
<circle cx="495.2" cy="360.7" r="4" stroke="#2a2222" stroke-width="1.3" fill="none"/>
<circle cx="495.2" cy="360.7" r="2" stroke="#5e5654" stroke-width="0.8" fill="none"/>
<path d="M491.2,360.5H499.2" stroke="#2a2222" stroke-width="0.8"/>
<path d="M495.5,356.7V364.7" stroke="#2a2222" stroke-width="0.8"/>
<rect x="490.5" y="367.5" width="10.0" height="10.0" stroke="#2a2222" stroke-width="1.2" fill="none"/>
<path d="M493.2,372.2L497.2,372.2" stroke="#2a2222" stroke-width="1.5"/>
<path d="M495.2,370.2L495.2,374.2" stroke="#2a2222" stroke-width="1.5"/>
<rect x="505.5" y="367.5" width="11.0" height="11.0" stroke="#5e5654" stroke-width="0.9" fill="none"/>
<circle cx="510.4" cy="372.4" r="4" stroke="#2a2222" stroke-width="1.3" fill="none"/>
<circle cx="510.4" cy="372.4" r="2" stroke="#5e5654" stroke-width="0.8" fill="none"/>
<path d="M506.4,372.5H514.4" stroke="#2a2222" stroke-width="0.8"/>
<path d="M510.5,368.4V376.4" stroke="#2a2222" stroke-width="0.8"/>
<path d="M458.2,381.5H520.6" stroke="#5e5654" stroke-width="1"/>
<path d="M461,381.8 L461,414.5 L480.3,414.5 L480.3,381.8" stroke="#5e5654" stroke-width="1" fill="none"/>
<path d="M463.5,381.8V414.5" stroke="#8a8380" stroke-width="1"/>
<rect x="465.5" y="383.5" width="14.0" height="9.0" stroke="#5e5654" stroke-width="0.9" fill="none"/>
<path d="M465,386.5H479" stroke="#5e5654" stroke-width="0.8"/>
<path d="M465,389.5H479" stroke="#5e5654" stroke-width="0.8"/>
<path d="M472.5,383.5V392.5" stroke="#5e5654" stroke-width="0.8"/>
<circle cx="470.6" cy="403.9" r="6.8" stroke="#5e5654" stroke-width="1" fill="none"/>
<circle cx="469.5" cy="399.6" r="3.3" stroke="#2a2222" stroke-width="1.2" fill="#555"/>
<circle cx="472.2" cy="407.7" r="3.2" stroke="#2a2222" stroke-width="1" fill="#2a2222"/>
<path d="M487.5,383.4 L492,383.4 L497,392.4 L493.5,393.5 Z" stroke="#5e5654" stroke-width="0.9" fill="none"/>
<path d="M491.5,384L496.5,392.4" stroke="#2a2222" stroke-width="1.6" stroke-dasharray="0.8,0.6"/>
<path d="M496,393L500,399" stroke="#2a2222" stroke-width="1"/>
<circle cx="500" cy="399.5" r="7.6" stroke="#2a2222" stroke-width="1.3" fill="none"/>
<circle cx="500" cy="399.5" r="5" stroke="#2a2222" stroke-width="1" fill="none"/>
<path d="M492.4,399.5H507.6" stroke="#2a2222" stroke-width="0.8"/>
<path d="M500.5,391.9V407.1" stroke="#2a2222" stroke-width="0.8"/>
<circle cx="500" cy="399.5" r="1.5" stroke="#2a2222" stroke-width="1" fill="none"/>
<rect x="510.4" y="381.8" width="7.7" height="7.6" fill="#2a2222"/>
<rect x="511.4" y="383" width="2.4" height="2.2" fill="#999"/>
<rect x="514.6" y="383" width="2.4" height="2.2" fill="#999"/>
<rect x="511.4" y="386" width="2.4" height="2.2" fill="#999"/>
<rect x="514.6" y="386" width="2.4" height="2.2" fill="#999"/>
<rect x="505" y="382.7" width="1.6" height="5.7" fill="#2a2222"/>
<path d="M486.9,412.5H518.4" stroke="#5e5654" stroke-width="1"/>
<path d="M486.5,381.8V416" stroke="#5e5654" stroke-width="1"/>
<path d="M518.5,381.8V416" stroke="#8a8380" stroke-width="1"/>
<rect x="465" y="373.5" width="1.6" height="3" fill="#2a2222"/>
<path d="M520.5,336.4V416" stroke="#5e5654" stroke-width="1" stroke-dasharray="5,1"/>
<path d="M520.4,336.5H573.2" stroke="#2a2222" stroke-width="1" stroke-dasharray="9,1.5"/>
<path d="M579.7,336.5H582.8000000000001" stroke="#2a2222" stroke-width="1"/>
<path d="M582.5,336.4V416" stroke="#5e5654" stroke-width="1" stroke-dasharray="5,1"/>
<path d="M520.4,352.5H567.5" stroke="#2a2222" stroke-width="1" stroke-dasharray="9,1.5"/>
<path d="M567.5,336.4V416" stroke="#5e5654" stroke-width="1" stroke-dasharray="5,1"/>
<path d="M550.5,336.4V352" stroke="#5e5654" stroke-width="1" stroke-dasharray="5,1"/>
<path d="M527.5,351.2V381" stroke="#5e5654" stroke-width="1" stroke-dasharray="3,1"/>
<circle cx="531.9" cy="344.7" r="4.1" stroke="#2a2222" stroke-width="1.6" fill="#6a6262"/>
<rect x="530.3" y="343.4" width="1.1" height="1.1" fill="#fff"/>
<rect x="532.5" y="343.4" width="1.1" height="1.1" fill="#fff"/>
<rect x="530.3" y="345.6" width="1.1" height="1.1" fill="#fff"/>
<rect x="532.5" y="345.6" width="1.1" height="1.1" fill="#fff"/>
<circle cx="559.2" cy="344.7" r="4.1" stroke="#2a2222" stroke-width="1.6" fill="#6a6262"/>
<rect x="557.6" y="343.4" width="1.1" height="1.1" fill="#fff"/>
<rect x="559.8000000000001" y="343.4" width="1.1" height="1.1" fill="#fff"/>
<rect x="557.6" y="345.6" width="1.1" height="1.1" fill="#fff"/>
<rect x="559.8000000000001" y="345.6" width="1.1" height="1.1" fill="#fff"/>
<path d="M528.2,349L526.7,352" stroke="#2a2222" stroke-width="1.6"/>
<path d="M562.7,349L564.2,352" stroke="#2a2222" stroke-width="1.6"/>
<rect x="535.5" y="347.5" width="2.0" height="2.0" stroke="#2a2222" stroke-width="0.9" fill="none"/>
<rect x="537.5" y="347.5" width="2.0" height="2.0" stroke="#2a2222" stroke-width="0.9" fill="none"/>
<rect x="535.5" y="349.5" width="2.0" height="2.0" stroke="#2a2222" stroke-width="0.9" fill="none"/>
<rect x="537.5" y="349.5" width="2.0" height="2.0" stroke="#2a2222" stroke-width="0.9" fill="none"/>
<rect x="552.5" y="347.5" width="2.0" height="2.0" stroke="#2a2222" stroke-width="0.9" fill="none"/>
<rect x="554.5" y="347.5" width="2.0" height="2.0" stroke="#2a2222" stroke-width="0.9" fill="none"/>
<rect x="543.5" y="337.5" width="5.0" height="8.0" stroke="#5e5654" stroke-width="1" fill="none"/>
<path d="M546.5,337V345.5" stroke="#5e5654" stroke-width="1"/>
<path d="M539.2,342.5H543.8000000000001" stroke="#5e5654" stroke-width="1"/>
<rect x="574.2" y="337.1" width="4.7" height="3.6" fill="#2a2222"/>
<rect x="571.6" y="341" width="9.4" height="1.8" fill="#2a2222"/>
<rect x="573.3000000000001" y="342.7" width="6.4" height="8.5" fill="#2a2222"/>
<rect x="574.8000000000001" y="344.6" width="1.2" height="1.5" fill="#fff"/>
<rect x="574.8000000000001" y="347.6" width="1.2" height="1.5" fill="#fff"/>
<rect x="576.8000000000001" y="344.6" width="1.2" height="1.5" fill="#fff"/>
<rect x="576.8000000000001" y="347.6" width="1.2" height="1.5" fill="#fff"/>
<rect x="572.5" y="351.2" width="8.5" height="6.8" fill="#2a2222"/>
<path d="M572.7,353.5H580.7" stroke="#777" stroke-width="0.6"/>
<path d="M572.7,355.5H580.7" stroke="#777" stroke-width="0.6"/>
<rect x="575.9000000000001" y="358" width="2.1" height="6" fill="#6a6262"/>
<rect x="575.2" y="364" width="3.4" height="2.8" fill="#2a2222"/>
<circle cx="570.8000000000001" cy="363.2" r="1.7" stroke="#2a2222" stroke-width="1.2" fill="none"/>
<rect x="534.5" y="354.5" width="15.0" height="25.0" stroke="#2a2222" stroke-width="1" fill="none"/>
<rect x="536.5" y="355.5" width="11.0" height="10.0" stroke="#5e5654" stroke-width="0.9" fill="none"/>
<circle cx="541.7" cy="360.7" r="4" stroke="#2a2222" stroke-width="1.3" fill="none"/>
<circle cx="541.7" cy="360.7" r="2" stroke="#5e5654" stroke-width="0.8" fill="none"/>
<path d="M537.7,360.5H545.7" stroke="#2a2222" stroke-width="0.8"/>
<path d="M541.5,356.7V364.7" stroke="#2a2222" stroke-width="0.8"/>
<rect x="536.5" y="367.5" width="11.0" height="10.0" stroke="#5e5654" stroke-width="0.9" fill="none"/>
<circle cx="541.7" cy="372.2" r="4" stroke="#2a2222" stroke-width="1.3" fill="none"/>
<circle cx="541.7" cy="372.2" r="2" stroke="#5e5654" stroke-width="0.8" fill="none"/>
<path d="M537.7,372.5H545.7" stroke="#2a2222" stroke-width="0.8"/>
<path d="M541.5,368.2V376.2" stroke="#2a2222" stroke-width="0.8"/>
<rect x="551.5" y="354.5" width="13.0" height="25.0" stroke="#2a2222" stroke-width="1" fill="none"/>
<rect x="552.5" y="355.5" width="10.0" height="10.0" stroke="#5e5654" stroke-width="0.9" fill="none"/>
<circle cx="557.4" cy="360.7" r="4" stroke="#2a2222" stroke-width="1.3" fill="none"/>
<circle cx="557.4" cy="360.7" r="2" stroke="#5e5654" stroke-width="0.8" fill="none"/>
<path d="M553.4,360.5H561.4" stroke="#2a2222" stroke-width="0.8"/>
<path d="M557.5,356.7V364.7" stroke="#2a2222" stroke-width="0.8"/>
<rect x="552.5" y="367.5" width="11.0" height="10.0" stroke="#2a2222" stroke-width="1.2" fill="none"/>
<path d="M555.4,372.2L559.4,372.2" stroke="#2a2222" stroke-width="1.5"/>
<path d="M557.4,370.2L557.4,374.2" stroke="#2a2222" stroke-width="1.5"/>
<rect x="567.5" y="367.5" width="11.0" height="11.0" stroke="#5e5654" stroke-width="0.9" fill="none"/>
<circle cx="572.6" cy="372.4" r="4" stroke="#2a2222" stroke-width="1.3" fill="none"/>
<circle cx="572.6" cy="372.4" r="2" stroke="#5e5654" stroke-width="0.8" fill="none"/>
<path d="M568.6,372.5H576.6" stroke="#2a2222" stroke-width="0.8"/>
<path d="M572.5,368.4V376.4" stroke="#2a2222" stroke-width="0.8"/>
<path d="M520.4,381.5H582.8000000000001" stroke="#5e5654" stroke-width="1"/>
<path d="M523.2,381.8 L523.2,414.5 L542.5,414.5 L542.5,381.8" stroke="#5e5654" stroke-width="1" fill="none"/>
<path d="M525.5,381.8V414.5" stroke="#8a8380" stroke-width="1"/>
<rect x="527.5" y="383.5" width="14.0" height="9.0" stroke="#5e5654" stroke-width="0.9" fill="none"/>
<path d="M527.2,386.5H541.2" stroke="#5e5654" stroke-width="0.8"/>
<path d="M527.2,389.5H541.2" stroke="#5e5654" stroke-width="0.8"/>
<path d="M534.5,383.5V392.5" stroke="#5e5654" stroke-width="0.8"/>
<circle cx="532.8000000000001" cy="403.9" r="6.8" stroke="#5e5654" stroke-width="1" fill="none"/>
<circle cx="531.7" cy="399.6" r="3.3" stroke="#2a2222" stroke-width="1.2" fill="#555"/>
<circle cx="534.4" cy="407.7" r="3.2" stroke="#2a2222" stroke-width="1" fill="#2a2222"/>
<path d="M549.7,383.4 L554.2,383.4 L559.2,392.4 L555.7,393.5 Z" stroke="#5e5654" stroke-width="0.9" fill="none"/>
<path d="M553.7,384L558.7,392.4" stroke="#2a2222" stroke-width="1.6" stroke-dasharray="0.8,0.6"/>
<path d="M558.2,393L562.2,399" stroke="#2a2222" stroke-width="1"/>
<circle cx="562.2" cy="399.5" r="7.6" stroke="#2a2222" stroke-width="1.3" fill="none"/>
<circle cx="562.2" cy="399.5" r="5" stroke="#2a2222" stroke-width="1" fill="none"/>
<path d="M554.6,399.5H569.8000000000001" stroke="#2a2222" stroke-width="0.8"/>
<path d="M562.5,391.9V407.1" stroke="#2a2222" stroke-width="0.8"/>
<circle cx="562.2" cy="399.5" r="1.5" stroke="#2a2222" stroke-width="1" fill="none"/>
<rect x="572.6" y="381.8" width="7.7" height="7.6" fill="#2a2222"/>
<rect x="573.6" y="383" width="2.4" height="2.2" fill="#999"/>
<rect x="576.8000000000001" y="383" width="2.4" height="2.2" fill="#999"/>
<rect x="573.6" y="386" width="2.4" height="2.2" fill="#999"/>
<rect x="576.8000000000001" y="386" width="2.4" height="2.2" fill="#999"/>
<rect x="567.2" y="382.7" width="1.6" height="5.7" fill="#2a2222"/>
<path d="M549.1,412.5H580.6" stroke="#5e5654" stroke-width="1"/>
<path d="M549.5,381.8V416" stroke="#5e5654" stroke-width="1"/>
<path d="M580.5,381.8V416" stroke="#8a8380" stroke-width="1"/>
<rect x="527.2" y="373.5" width="1.6" height="3" fill="#2a2222"/>
<g style="filter:grayscale(1)"><text transform="translate(111,67) rotate(-90) scale(0.62,1)" text-anchor="middle" font-family="'Liberation Sans', sans-serif" font-weight="bold" font-size="9.8" fill="#2e2626">2800</text><text transform="translate(111.6,180) rotate(-90) scale(0.62,1)" text-anchor="middle" font-family="'Liberation Sans', sans-serif" font-weight="bold" font-size="9.8" fill="#2e2626">3000</text><text transform="translate(112.2,328) rotate(-90) scale(0.62,1)" text-anchor="middle" font-family="'Liberation Sans', sans-serif" font-weight="bold" font-size="9.8" fill="#2e2626">4800</text><text transform="translate(204,430.9) rotate(0) scale(0.68,1)" text-anchor="middle" font-family="'Liberation Sans', sans-serif" font-weight="bold" font-size="9" fill="#2e2626">4400</text><text transform="translate(490.9,22.8) rotate(0) scale(0.68,1)" text-anchor="middle" font-family="'Liberation Sans', sans-serif" font-weight="bold" font-size="9" fill="#2e2626">8000</text><text transform="translate(650.0,271) rotate(-90) scale(0.62,1)" text-anchor="middle" font-family="'Liberation Sans', sans-serif" font-weight="bold" font-size="9.8" fill="#2e2626">8000</text></g>
</svg>
</body></html>
